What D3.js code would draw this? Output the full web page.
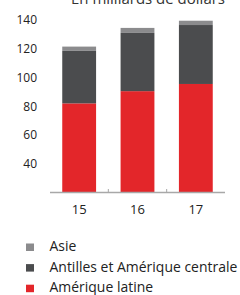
<!DOCTYPE html>
<html>
<head>
<meta charset="utf-8">
<script src="https://cdn.jsdelivr.net/npm/d3@7"></script>
<style>
  body { margin: 0; background: #fff; }
  svg { display: block; }
</style>
</head>
<body>
<div id="chart"></div>
<script>
// data (billions of dollars)
var years = ["15", "16", "17"];
var ameriqueLatine = [82, 90.5, 95.5];
var antilles = [36.5, 40.5, 41];
var asie = [3, 3.5, 3];
var yTicks = [40, 60, 80, 100, 120, 140];
var seriesNames = ["Asie", "Antilles et Amérique centrale", "Amérique latine"];
var seriesColors = ["#8b8b8d", "#4b4c4e", "#e3262a"];

var width = 240, height = 295;
var svg = d3.select("#chart").append("svg")
  .attr("width", width)
  .attr("height", height);

// title, cut off at the top of the picture
svg.append("text")
  .attr("x", 148)
  .attr("y", 4)
  .attr("text-anchor", "middle")
  .style("font-family", "Open Sans")
  .style("font-size", "15px")
  .style("fill", "#333")
  .text("En milliards de dollars");

var x = d3.scaleBand()
  .domain(years)
  .range([50, 225])
  .paddingInner(0.42)
  .paddingOuter(0.21);

// value axis starts at 20
var yMin = 20;
var y = d3.scaleLinear()
  .domain([yMin, 140])
  .range([192.5, 20]);

var rows = years.map(function(yr, i) {
  return { year: yr, latine: ameriqueLatine[i], antilles: antilles[i], asie: asie[i] };
});
var layers = d3.stack().keys(["latine", "antilles", "asie"])(rows);
var layerColors = { latine: seriesColors[2], antilles: seriesColors[1], asie: seriesColors[0] };

svg.append("g")
  .selectAll("g")
  .data(layers)
  .enter()
  .append("g")
  .attr("fill", function(d) { return layerColors[d.key]; })
  .selectAll("rect")
  .data(function(d) { return d; })
  .enter()
  .append("rect")
  .attr("x", function(d) { return x(d.data.year); })
  .attr("y", function(d) { return y(d[1]); })
  .attr("width", x.bandwidth())
  .attr("height", function(d) { return y(Math.max(d[0], yMin)) - y(d[1]); });

// bottom axis line + ticks between bars
var base = svg.append("g").attr("transform", "translate(0," + y(yMin) + ")");
base.append("line")
  .attr("x1", 50).attr("x2", 225)
  .attr("stroke", "#a8a8a8")
  .attr("stroke-width", 1.5);
base.selectAll(".tk")
  .data(years.slice(1))
  .enter()
  .append("line")
  .attr("x1", function(d) { return x(d) - x.step() * x.paddingInner() / 2; })
  .attr("x2", function(d) { return x(d) - x.step() * x.paddingInner() / 2; })
  .attr("y1", 0).attr("y2", -3.5)
  .attr("stroke", "#a8a8a8")
  .attr("stroke-width", 1);

// x labels
svg.append("g")
  .selectAll("text")
  .data(years)
  .enter()
  .append("text")
  .attr("x", function(d) { return x(d) + x.bandwidth() / 2; })
  .attr("y", 214)
  .attr("text-anchor", "middle")
  .style("font-family", "Open Sans")
  .style("font-size", "13px")
  .style("fill", "#222")
  .text(function(d) { return d; });

// y labels
svg.append("g")
  .selectAll("text")
  .data(yTicks)
  .enter()
  .append("text")
  .attr("x", 37)
  .attr("y", function(d) { return y(d); })
  .attr("dy", "0.36em")
  .attr("text-anchor", "end")
  .style("font-family", "Open Sans")
  .style("font-size", "12px")
  .style("fill", "#222")
  .text(function(d) { return d; });

// legend (condensed look: squeeze text horizontally)
var legend = svg.append("g")
  .selectAll("g")
  .data(seriesNames)
  .enter()
  .append("g")
  .attr("transform", function(d, i) { return "translate(26," + (243.5 + i * 20.6) + ")"; });
legend.append("rect")
  .attr("width", 8).attr("height", 7.5)
  .attr("fill", function(d, i) { return seriesColors[i]; });
var lt = legend.append("text")
  .style("font-family", "Open Sans")
  .style("font-size", "15px")
  .style("fill", "#222")
  .text(function(d) { return d; });
var longest = d3.max(lt.nodes(), function(n) { return n.getComputedTextLength(); });
var sx = 188 / longest;
lt.attr("transform", "translate(23.5,7.5) scale(" + sx + ",1)");
</script>
</body>
</html>
